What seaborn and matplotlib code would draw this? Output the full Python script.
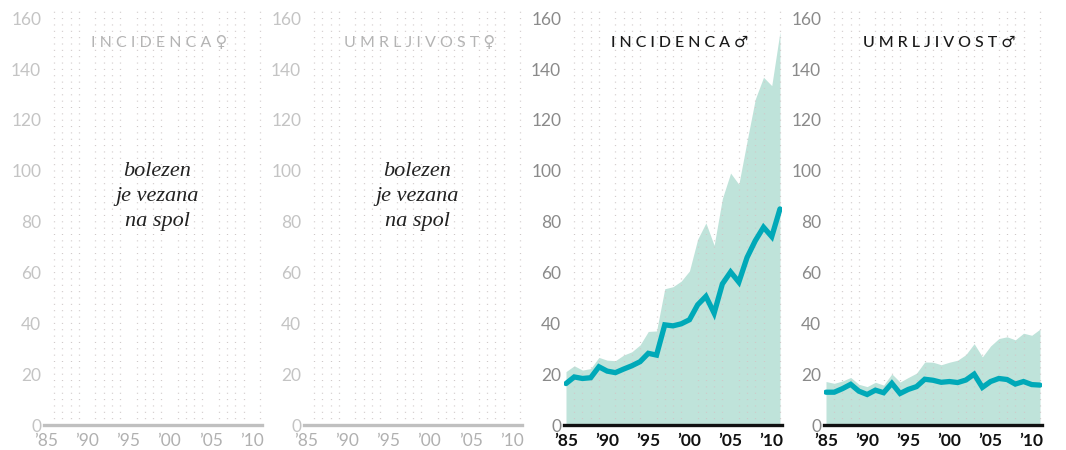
import seaborn as sns
import matplotlib.pyplot as plt
import numpy as np
import pandas as pd

# data (per 100 000, men only)
years = list(range(1985, 2012))
inc_upper = [21, 23.3, 21.6, 22.2, 26.6, 25.5, 25.3, 27.5, 28.8, 31.5, 36.8, 37,
             53.6, 54.4, 56.6, 60.6, 73.1, 79.5, 70.7, 89.1, 99.1, 94.7, 111.7,
             128.2, 136.8, 133.5, 154.7]
inc_rate = [16.3, 18.9, 18.3, 18.6, 22.9, 21.2, 20.6, 22, 23.3, 24.9, 28.2, 27.5,
            39.4, 39.0, 39.8, 41.4, 47.3, 50.6, 44, 55.5, 60.2, 56.2, 65.9,
            72.5, 77.8, 74.1, 85]
mort_upper = [17.1, 16.4, 17.3, 18.7, 16, 15.1, 16.8, 15.7, 20.1, 16.9, 18.7, 20.4,
              24.8, 24.7, 23.7, 24.7, 25.5, 27.7, 32, 26.8, 31.1, 34, 34.7,
              33.5, 36.1, 35.3, 37.7]
mort_rate = [12.9, 12.9, 14.3, 16, 13.3, 12, 13.7, 12.7, 16.4, 12.4, 14, 15.1,
             18, 17.6, 16.8, 17.1, 16.7, 17.7, 20, 14.8, 17.1, 18.3, 17.9,
             16.1, 17.1, 15.9, 15.7]

titles = ["INCIDENCA", "UMRLJIVOST", "INCIDENCA", "UMRLJIVOST"]
signs = ["\u2640", "\u2640", "\u2642", "\u2642"]
xticks = [1985, 1990, 1995, 2000, 2005, 2010]
xlabels = ["\u201985", "\u201990", "\u201995", "\u201900", "\u201905", "\u201910"]
note = "bolezen\nje vezana\nna spol"

sns.set_style("white")
plt.rcParams["font.family"] = ["Lato", "DejaVu Sans"]

FILL = "#bfe3da"
LINE = "#00a9b8"

fig = plt.figure(figsize=(10.66, 4.5), dpi=100)

df_inc = pd.DataFrame({"leto": years, "zgoraj": inc_upper, "stopnja": inc_rate})
df_mort = pd.DataFrame({"leto": years, "zgoraj": mort_upper, "stopnja": mort_rate})
frames = [None, None, df_inc, df_mort]

px_year = 8.23
px_unit = 2.542
for i in range(4):
    left = 566 + (i - 2) * 260 - 0.25 * px_year
    ax = fig.add_axes([left / 1066, 25 / 450, 26.5 * px_year / 1066, 163 * px_unit / 450])
    active = frames[i] is not None
    tick_col = "#8a8a8a" if active else "#c4c4c4"
    lab_col = "#111111" if active else "#b0b0b0"
    title_col = "#1a1a1a" if active else "#b4b4b4"

    if active:
        d = frames[i]
        ax.fill_between(d["leto"], 0, d["zgoraj"], color=FILL, lw=0, zorder=1)
        sns.lineplot(data=d, x="leto", y="stopnja", ax=ax, color=LINE, lw=3.8,
                     zorder=3, solid_joinstyle="miter")
    else:
        ax.text(2000 - 1.5, 89.8, note, ha="center", va="center", fontsize=16,
                family="Liberation Serif", style="italic", color="#222222",
                linespacing=1.42)

    ax.set_xlim(1984.75, 2011.25)
    ax.set_ylim(0, 163)
    ax.set_xticks(xticks)
    ax.set_xticklabels(xlabels, fontsize=12.5, color=lab_col,
                       fontweight="bold" if active else "normal")
    ax.set_yticks(range(0, 161, 20))
    ax.set_yticklabels([str(v) for v in range(0, 161, 20)], fontsize=12.5, color=tick_col)
    ax.set_xticks(years, minor=True)
    ax.tick_params(axis="both", which="both", length=0)
    ax.tick_params(axis="x", pad=6)
    ax.tick_params(axis="y", pad=2)
    ax.set_xlabel("")
    ax.set_ylabel("")

    # dotted lattice
    ax.set_axisbelow("line")
    ax.grid(False)
    ax.grid(True, axis="x", which="minor", color="#cfc8c8", lw=0.9,
            linestyle=(0, (0.8, 4.28)))

    for s in ["left", "right", "top"]:
        ax.spines[s].set_visible(False)
    ax.spines["bottom"].set_color("#111111" if active else "#c0c0c0")
    ax.spines["bottom"].set_linewidth(2.4)
    ax.spines["bottom"].set_zorder(4)

    spaced = " ".join(titles[i])
    ax.text(2000 - 1.2, 150.3, spaced + " " + signs[i], ha="center", va="center",
            fontsize=11.5, color=title_col, family=["Lato", "DejaVu Sans"],
            fontweight="medium" if active else "normal")

fig.savefig("out.png", dpi=100, facecolor="white")
